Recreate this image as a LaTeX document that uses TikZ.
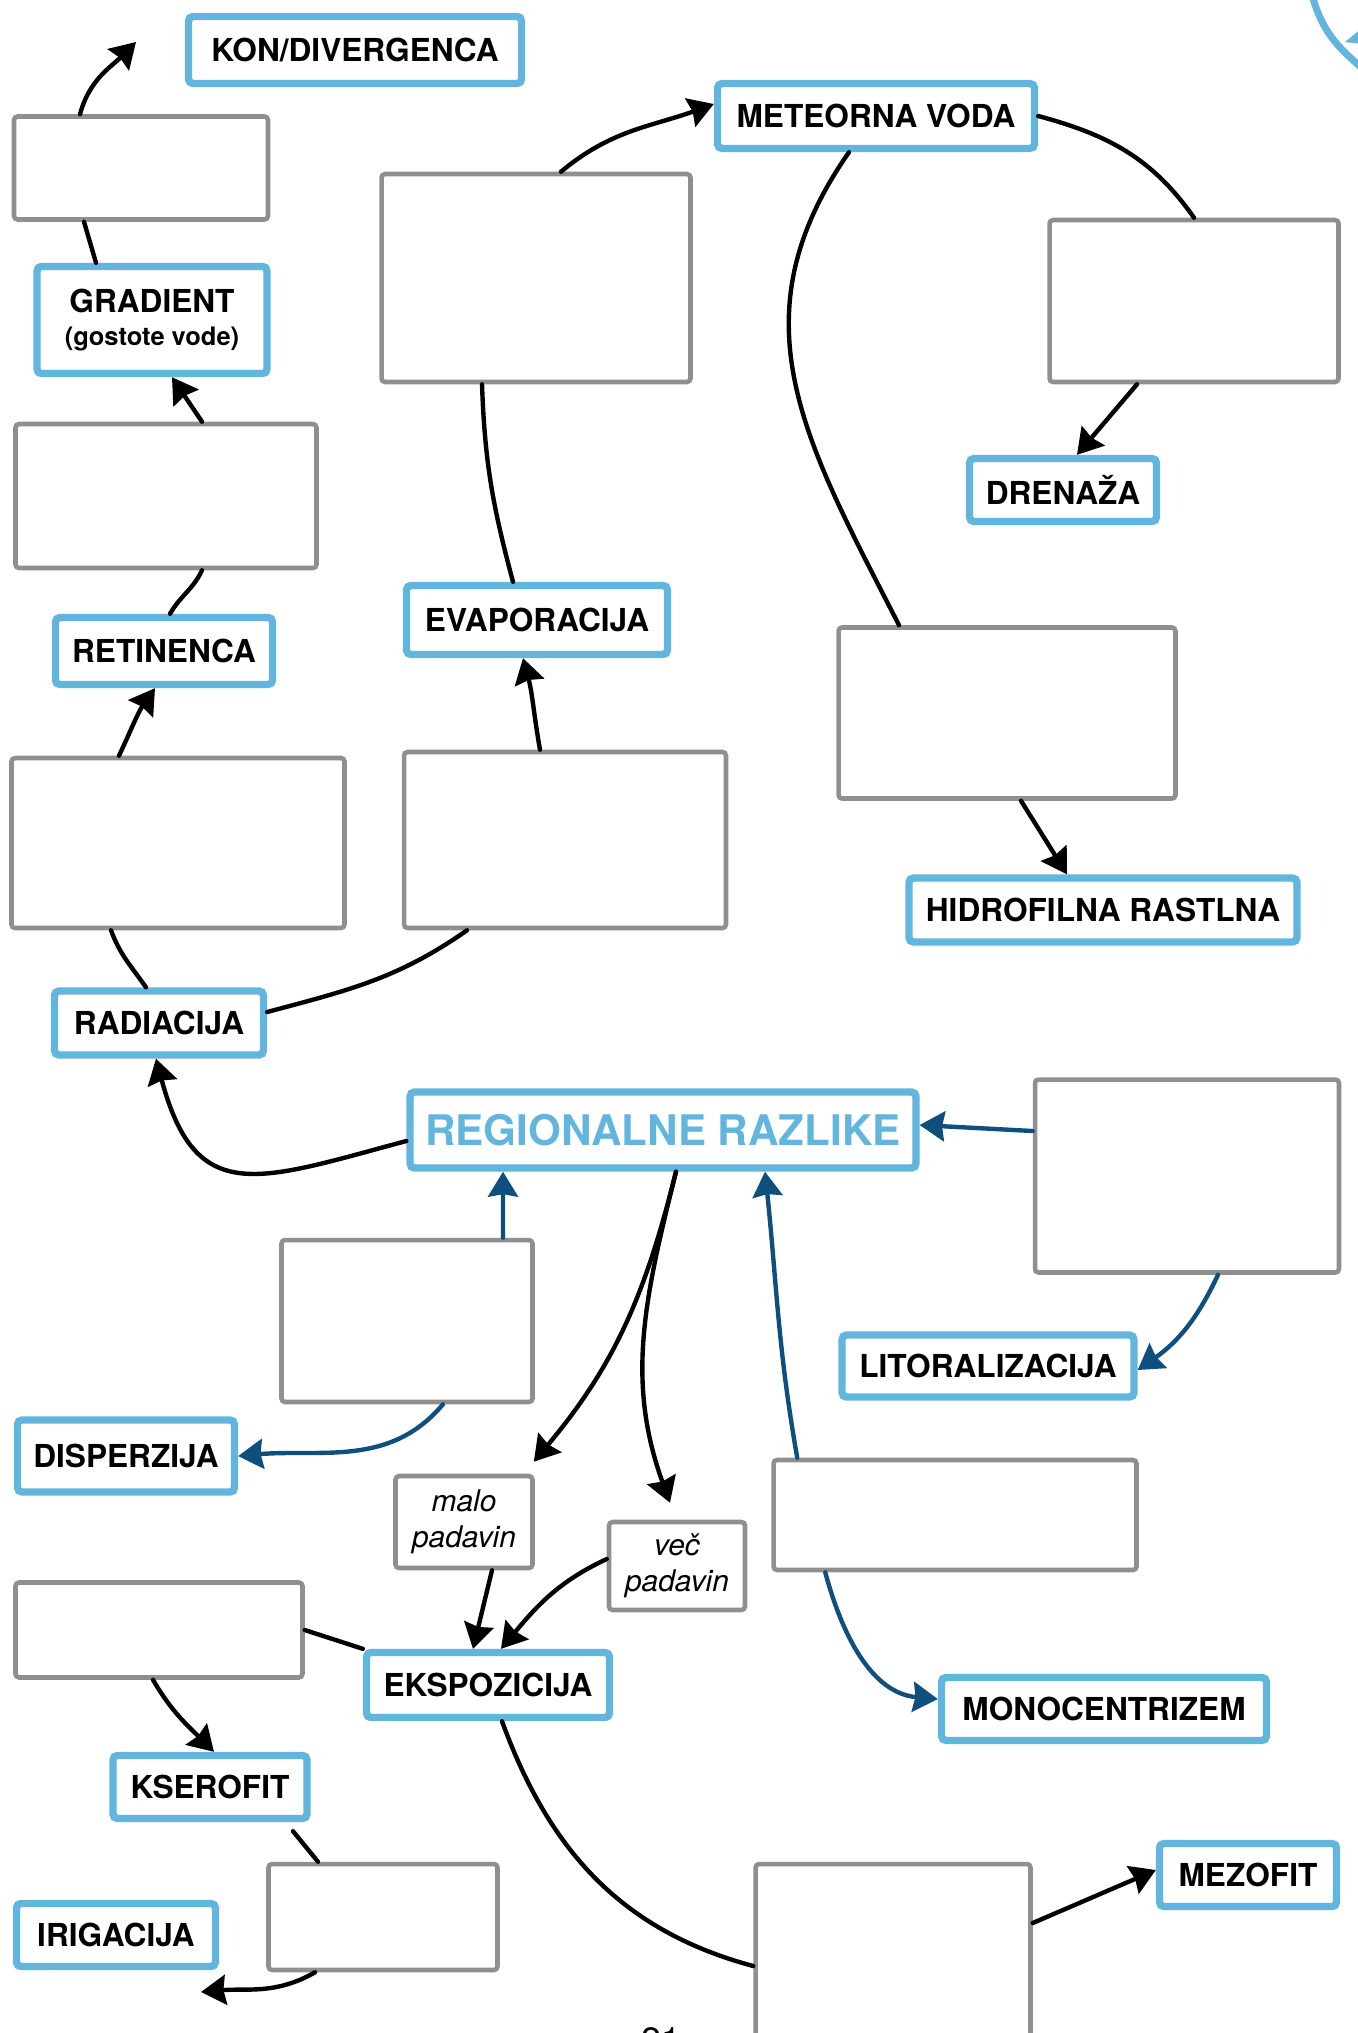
\documentclass[tikz,border=0pt]{standalone}
\usepackage{fontspec}
\setmainfont{TeX Gyre Heros}
\usetikzlibrary{arrows.meta}
\definecolor{lblue}{HTML}{62B5DD}
\definecolor{navy}{HTML}{0E4F7E}
\definecolor{boxgray}{HTML}{8F8F8F}

\begin{document}
\begin{tikzpicture}[x=0.02cm,y=-0.02cm,
  term/.style={draw=lblue,line width=4.2pt,rounded corners=2.5pt,fill=white,inner sep=0pt,align=center,font=\fontsize{18}{22}\selectfont\bfseries},
  blank/.style={draw=boxgray,line width=2.6pt,rounded corners=2pt,fill=white,inner sep=0pt,align=center,font=\fontsize{17}{20.5}\selectfont\itshape},
  link/.style={line width=2.5pt,line cap=round},
  arr/.style={link,-{Stealth[length=0.5cm,width=0.6cm,inset=0.05cm]}},
  narr/.style={arr,navy}]
  \useasboundingbox (0,0) rectangle (1357,2033);

  \node[term,minimum width=6.66cm,minimum height=1.34cm] (kon) at (355,50) {KON/DIVERGENCA};
  \node[term,minimum width=6.34cm,minimum height=1.30cm] (meteor) at (876,116) {METEORNA VODA};
  \node[term,minimum width=4.60cm,minimum height=2.14cm] (gradient) at (152,320) {GRADIENT\\[-3pt]\fontsize{14.5}{17}\selectfont(gostote vode)};
  \node[term,minimum width=3.74cm,minimum height=1.26cm] (drenaza) at (1063,490) {DRENAŽA};
  \node[term,minimum width=5.22cm,minimum height=1.38cm] (evap) at (537,620) {EVAPORACIJA};
  \node[term,minimum width=4.34cm,minimum height=1.34cm] (retin) at (164,651) {RETINENCA};
  \node[term,minimum width=7.76cm,minimum height=1.28cm] (hidro) at (1103,910) {HIDROFILNA RASTLNA};
  \node[term,minimum width=4.18cm,minimum height=1.28cm] (radia) at (159,1023) {RADIACIJA};
  \node[term,minimum width=10.12cm,minimum height=1.52cm,text=lblue,font=\fontsize{24}{28}\selectfont\bfseries] (region) at (663,1130) {REGIONALNE RAZLIKE};
  \node[term,minimum width=5.84cm,minimum height=1.24cm] (litoral) at (988,1366) {LITORALIZACIJA};
  \node[term,minimum width=4.34cm,minimum height=1.44cm] (disperz) at (126,1456) {DISPERZIJA};
  \node[term,minimum width=4.86cm,minimum height=1.30cm] (ekspoz) at (488,1685) {EKSPOZICIJA};
  \node[term,minimum width=6.50cm,minimum height=1.26cm] (monoc) at (1104,1709) {MONOCENTRIZEM};
  \node[term,minimum width=3.88cm,minimum height=1.26cm] (kserofit) at (210,1787) {KSEROFIT};
  \node[term,minimum width=3.54cm,minimum height=1.26cm] (mezofit) at (1248,1875) {MEZOFIT};
  \node[term,minimum width=3.98cm,minimum height=1.26cm] (irigac) at (116,1935) {IRIGACIJA};

  \node[blank,minimum width=5.08cm,minimum height=2.06cm] (g1) at (141,168) {};
  \node[blank,minimum width=6.18cm,minimum height=4.16cm] (g2) at (536,278) {};
  \node[blank,minimum width=5.78cm,minimum height=3.24cm] (g3) at (1194,301) {};
  \node[blank,minimum width=6.02cm,minimum height=2.88cm] (g4) at (166,496) {};
  \node[blank,minimum width=6.74cm,minimum height=3.42cm] (g5) at (1007,713) {};
  \node[blank,minimum width=6.66cm,minimum height=3.40cm] (g6) at (178,843) {};
  \node[blank,minimum width=6.44cm,minimum height=3.52cm] (g7) at (565,840) {};
  \node[blank,minimum width=6.08cm,minimum height=3.86cm] (g8) at (1187,1176) {};
  \node[blank,minimum width=5.02cm,minimum height=3.24cm] (g9) at (407,1321) {};
  \node[blank,minimum width=2.74cm,minimum height=1.84cm] (malo) at (464,1522) {malo\\padavin};
  \node[blank,minimum width=2.72cm,minimum height=1.76cm] (vec) at (677,1566) {več\\padavin};
  \node[blank,minimum width=7.26cm,minimum height=2.20cm] (g10) at (955,1515) {};
  \node[blank,minimum width=5.74cm,minimum height=1.90cm] (g11) at (159,1630) {};
  \node[blank,minimum width=4.58cm,minimum height=2.12cm] (g12) at (383,1917) {};
  \node[blank,minimum width=5.50cm,minimum height=3.88cm] (g13) at (893,1961) {};

  \node[anchor=north,inner sep=0pt,font=\fontsize{20}{24}\selectfont] (pagenum) at (661,2027) {21};
  \coordinate (kontip) at (136,42);
  \coordinate (irigtip) at (201,1992);

  \draw[arr] ([xshift=-1.22cm]g1.north) to[out=75,in=225] (kontip);
  \draw[link] ([xshift=-1.12cm]gradient.north) -- ([xshift=-1.14cm]g1.south);
  \draw[arr] ([xshift=0.72cm]g4.north) -- ([xshift=0.4cm]gradient.south);
  \draw[link] ([xshift=0.12cm]retin.north) to[out=60,in=-115] ([xshift=0.72cm]g4.south);
  \draw[arr] ([xshift=-1.18cm]g6.north) to[out=65,in=-125] ([xshift=-0.18cm]retin.south);
  \draw[link] ([xshift=-0.26cm]radia.north) to[out=125,in=-70] ([xshift=-1.34cm]g6.south);
  \draw[link] ([yshift=0.22cm]radia.east) to[out=15,in=-145] ([xshift=-1.96cm]g7.south);
  \draw[arr] ([xshift=-0.5cm]g7.north) to[out=100,in=-75] ([xshift=-0.28cm]evap.south);
  \draw[link] ([xshift=-0.48cm]evap.north) to[out=105,in=-88] ([xshift=-1.08cm]g2.south);
  \draw[arr] ([xshift=0.5cm]g2.north) to[out=40,in=200] ([yshift=0.24cm]meteor.west);
  \draw[link] (meteor.east) to[out=-15,in=125] (g3.north);
  \draw[arr] ([xshift=-1.14cm]g3.south) -- ([xshift=0.28cm]drenaza.north);
  \draw[link] ([xshift=-0.54cm]meteor.south) to[out=-125,in=117,looseness=1.1] ([xshift=-2.16cm]g5.north);
  \draw[arr] ([xshift=0.28cm]g5.south) -- ([xshift=-0.72cm]hidro.north);
  \draw[arr] ([yshift=-0.22cm]region.west) to[out=195,in=-75,looseness=1.5] ([xshift=-0.06cm]radia.south);
  \draw[narr] ([yshift=0.9cm]g8.west) -- ([yshift=0.1cm]region.east);
  \draw[narr] ([xshift=0.62cm]g8.south) to[out=-115,in=35] ([yshift=-0.08cm]litoral.east);
  \draw[narr] ([xshift=1.92cm]g9.north) -- ([xshift=-3.2cm]region.south);
  \draw[narr] ([xshift=0.72cm]g9.south) to[out=-130,in=5] (disperz.east);
  \draw[arr] ([xshift=0.26cm]region.south) to[out=-104,in=50] ([xshift=-0.02cm,yshift=0.24cm]malo.north east);
  \draw[arr] ([xshift=0.26cm]region.south) to[out=-104,in=110] ([xshift=-0.14cm,yshift=0.34cm]vec.north);
  \draw[narr] ([xshift=0.52cm]g10.north west) to[out=100,in=-84] ([xshift=2.04cm]region.south);
  \draw[narr] ([xshift=1.08cm]g10.south west) to[out=-75,in=175] ([yshift=0.2cm]monoc.west);
  \draw[arr] ([xshift=0.56cm]malo.south) -- ([xshift=-0.3cm]ekspoz.north);
  \draw[arr] ([yshift=0.14cm]vec.west) to[out=205,in=50] ([xshift=0.26cm]ekspoz.north);
  \draw[link] (g11.east) -- (ekspoz.north west);
  \draw[arr] ([xshift=-0.12cm]g11.south) to[out=-60,in=135] ([xshift=0.08cm]kserofit.north);
  \draw[link] ([xshift=1.66cm,yshift=-0.18cm]kserofit.south) -- ([xshift=-1.3cm]g12.north);
  \draw[arr] ([xshift=-1.36cm]g12.south) to[out=-150,in=5] (irigtip);
  \draw[link] ([xshift=0.28cm]ekspoz.south) to[out=-70,in=165] ([yshift=-0.1cm]g13.west);
  \draw[arr] ([yshift=0.76cm]g13.east) -- ([yshift=0.1cm]mezofit.west);

  \draw[lblue,line width=4pt] (1312,-5) .. controls (1322,30) and (1335,45) .. (1362,68);
  \fill[lblue] (1345,42) -- (1362,28) -- (1362,44) -- cycle;
\end{tikzpicture}
\end{document}
